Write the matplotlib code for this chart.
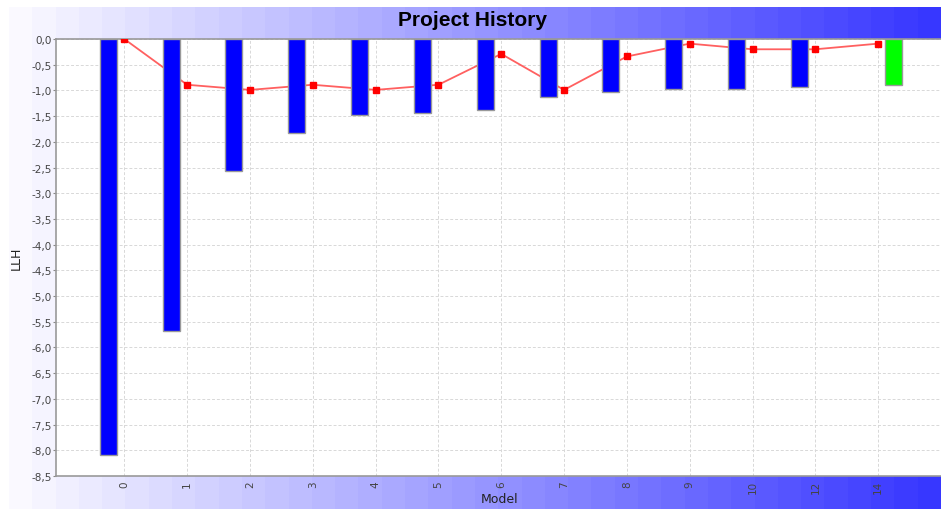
import numpy as np
import matplotlib
matplotlib.use("Agg")
import matplotlib.pyplot as plt
from matplotlib.ticker import MultipleLocator, FuncFormatter

# Data
models = ['0', '1', '2', '3', '4', '5', '6', '7', '8', '9', '10', '12', '14']
llh_models = [-8.09, -5.67, -2.57, -1.83, -1.47, -1.43, -1.39, -1.13, -1.04, -0.97, -0.97, -0.94, np.nan]
llh_current = [np.nan] * 12 + [-0.89]
llh_change = [0.0, -0.89, -0.99, -0.89, -0.99, -0.89, -0.29, -0.99, -0.34, -0.09, -0.2, -0.2, -0.09]

W, H = 941, 510
fig = plt.figure(figsize=(W / 100, H / 100), dpi=100)
fig.patch.set_facecolor('white')

# Horizontal white -> blue gradient behind everything
bg = fig.add_axes([9 / W, 0, 1 - 9 / W, 1 - 8 / H], zorder=0)
steps = 40
frac = np.linspace(0, 1, steps)
rg = 250 - 195 * frac
grad = np.stack([rg, rg - 1 * (1 - frac), np.full(steps, 255)], axis=-1) / 255.0
bg.imshow(grad[np.newaxis, :, :], aspect='auto', extent=[0, 1, 0, 1], interpolation='nearest')
bg.set_axis_off()

ax = fig.add_axes([56 / W, 1 - 477 / H, (W - 56) / W, (477 - 40) / H], zorder=1)
ax.set_facecolor('white')

x = np.arange(len(models))
bw = 0.27
ax.plot(x, llh_change, color='#ff6060', lw=1.3, zorder=2)
ax.plot(x, llh_change, ls='none', marker='s', ms=4.5, color='red', zorder=4)
ax.bar(x - 0.255, llh_models, width=bw, color='#0000ff', edgecolor='#999999', linewidth=1, zorder=3)
ax.bar(x + 0.245, llh_current, width=bw, color='#00ff00', edgecolor='#999999', linewidth=1, zorder=3)

ax.set_xlim(-1.087, 13.0)
ax.set_ylim(-8.5, 0)
ax.set_xticks(x)
ax.set_xticklabels(models, rotation=90, fontsize=7.5, color='#444444')
ax.yaxis.set_major_locator(MultipleLocator(0.5))
ax.yaxis.set_major_formatter(FuncFormatter(lambda v, p: f"{v:.1f}".replace('.', ',')))
ax.tick_params(axis='y', labelsize=7.5, labelcolor='#444444', length=2, color='#888888', pad=1)
ax.tick_params(axis='x', length=0, pad=3)
ax.grid(True, color='#d8d8d8', ls=(0, (3, 2)), lw=0.7, zorder=0)
ax.set_axisbelow(True)

for side in ['left', 'top', 'bottom']:
    ax.spines[side].set_color('#999999')
    ax.spines[side].set_linewidth(1.2)
ax.spines['right'].set_visible(False)

fig.text(16 / W, 1 - 258 / H, 'LLH', rotation=90, ha='center', va='center',
         fontsize=9, color='#222222')
fig.text(500 / W, 1 - 500 / H, 'Model', ha='center', va='center',
         fontsize=9, color='#222222')

fig.text(473 / W, 1 - 21 / H, 'Project History', ha='center', va='center',
         fontsize=15, fontweight='bold', family='Liberation Sans', color='black')

fig.savefig('out.png', dpi=100)
